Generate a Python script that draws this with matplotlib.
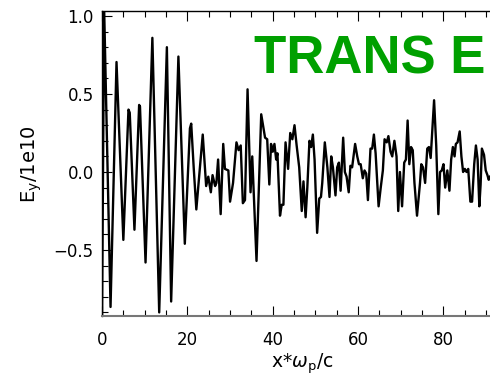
import matplotlib
matplotlib.use("Agg")
import matplotlib.pyplot as plt
from matplotlib.ticker import MultipleLocator

x_vals = [0, 0.5, 2.0, 3.4, 5.0, 6.2, 6.5, 7.6, 8.7, 8.9, 10.2, 11.8, 13.4, 15.2, 16.2, 17.9, 19.4,
          20.6, 20.9, 21.5, 22.1, 23.6, 24.4, 24.9, 25.5, 25.9, 26.5, 26.8, 27.2, 27.8, 28.4, 28.8,
          29.6, 30.0, 30.7, 31.5, 32.0, 32.5, 33.0, 33.5, 34.1, 34.8, 35.2, 36.2, 37.3, 38.2, 38.7,
          39.2, 39.6, 40.0, 40.4, 40.8, 41.1, 41.7, 42.1, 42.5, 43.0, 43.6, 44.1, 44.6, 45.1, 45.6,
          46.2, 46.8, 47.2, 47.7, 48.1, 48.6, 49.0, 49.4, 49.8, 50.4, 50.9, 51.3, 51.6, 52.2, 52.8,
          53.3, 53.7, 54.1, 54.7, 55.1, 55.5, 55.9, 56.5, 56.9, 57.3, 57.8, 58.2, 58.6, 59.3, 59.8,
          60.2, 60.6, 61.1, 61.5, 61.9, 62.3, 62.9, 63.3, 63.7, 64.1, 64.8, 65.3, 65.8, 66.2, 66.7,
          67.1, 67.6, 68.0, 68.5, 69.0, 69.4, 69.8, 70.3, 70.8, 71.2, 71.6, 72.0, 72.4, 72.8, 73.2,
          73.8, 74.5, 74.8, 75.2, 75.7, 76.2, 76.6, 77.0, 77.8, 78.3, 78.8, 79.2, 79.6, 80.0, 80.4,
          80.9, 81.4, 81.8, 82.2, 82.6, 82.9, 83.3, 83.8, 84.2, 84.6, 85.0, 85.4, 85.8, 86.3, 86.7,
          87.2, 87.6, 88.0, 88.4, 88.7, 89.0, 89.5, 89.9, 90.3, 90.6, 90.9]
ey_vals = [-0.95, 1.05, -0.865, 0.705, -0.435, 0.40, 0.38, -0.37, 0.43, 0.42, -0.58, 0.86, -0.90, 0.80, -0.83, 0.74, -0.46,
           0.28, 0.31, 0.02, -0.24, 0.24, -0.09, -0.03, -0.13, -0.02, -0.09, -0.07, 0.08, -0.27, 0.18, 0.02,
           0.01, -0.19, -0.07, 0.19, 0.14, 0.17, -0.20, -0.18, 0.53, -0.13, 0.10, -0.57, 0.37, 0.22, 0.21,
           -0.08, 0.18, 0.13, 0.18, 0.08, 0.12, -0.28, -0.21, -0.21, 0.19, 0.02, 0.25, 0.21, 0.30, 0.17,
           0.03, -0.25, -0.06, -0.29, -0.10, 0.20, 0.16, 0.24, 0.08, -0.39, -0.17, -0.16, -0.07, 0.19, 0.03,
           -0.16, 0.10, 0.03, -0.15, 0.03, 0.06, -0.12, 0.22, 0.00, -0.03, -0.13, 0.04, 0.03, 0.18, 0.10,
           0.05, 0.05, -0.04, 0.01, -0.01, -0.18, 0.15, 0.15, 0.24, 0.12, -0.22, -0.10, 0.01, 0.21, 0.19,
           0.23, 0.13, 0.10, 0.20, 0.10, -0.25, 0.00, -0.22, 0.06, 0.08, 0.33, 0.05, 0.16, 0.14, -0.07,
           -0.28, -0.07, 0.05, 0.03, -0.07, 0.15, 0.16, 0.09, 0.46, 0.17, -0.27, 0.00, 0.01, 0.05, -0.10,
           0.01, -0.12, 0.08, 0.16, 0.10, 0.18, 0.19, 0.26, 0.10, 0.00, 0.02, 0.00, 0.02, -0.19, -0.19,
           0.05, 0.17, 0.08, -0.22, -0.08, 0.15, 0.11, 0.01, -0.02, -0.05, -0.03]
x_ticks = [0, 20, 40, 60, 80]
y_ticks = [-0.5, 0.0, 0.5, 1.0]
title_text = "TRANS E"

plt.rcParams['font.family'] = ['DejaVu Sans']
fig = plt.figure(figsize=(4.9, 3.75), dpi=100)
ax = fig.add_axes([102/490, 1-316/375, (490-102)/490, (316-11)/375])
ax.plot(x_vals, ey_vals, color='black', lw=1.7, clip_on=True, solid_joinstyle='round')
ax.set_xlim(0, 90.9)
ax.set_ylim(-0.923, 1.032)
ax.set_xticks(x_ticks)
ax.set_yticks(y_ticks)
ax.set_yticklabels(['\u22120.5', '0.0', '0.5', '1.0'])
ax.xaxis.set_minor_locator(MultipleLocator(5))
ax.yaxis.set_minor_locator(MultipleLocator(0.1))
ax.tick_params(which='both', direction='in', top=True, right=False, labelsize=12, width=0.8)
ax.tick_params(which='major', length=7)
ax.tick_params(which='minor', length=4)
ax.tick_params(axis='x', pad=11)
ax.tick_params(axis='y', pad=6)
ax.spines['right'].set_visible(False)
ax.spines['bottom'].set_color('#777777')
for s in ['left', 'top']:
    ax.spines[s].set_linewidth(1.0)
ax.spines['bottom'].set_linewidth(1.5)
ax.set_xlabel(r'x$*\omega_{\mathrm{p}}$/c', fontsize=13.5)
ax.set_ylabel(r'E$_{\mathrm{y}}$/1e10', fontsize=14)
ax.xaxis.set_label_coords((302-102)/388, -(351-316)/305)
ax.yaxis.set_label_coords(-(102-44)/388, (316-164)/305)
fig.text(485/490, 1-74/375, title_text, color='#00A000', fontsize=38,
         fontweight='bold', family='Liberation Sans', ha='right', va='baseline')
fig.savefig('out.png', dpi=100)
